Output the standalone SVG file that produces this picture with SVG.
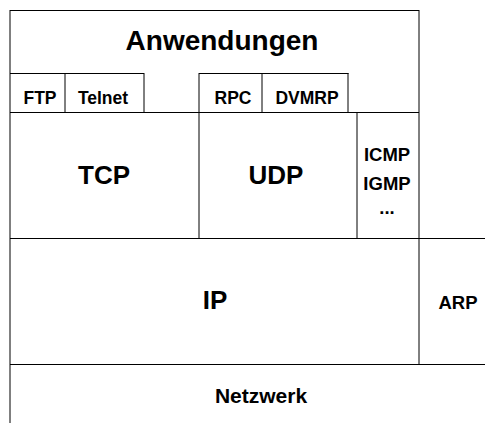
<svg xmlns="http://www.w3.org/2000/svg" width="485" height="423" viewBox="0 0 485 423">
<style>
.ln{stroke:#000;stroke-width:1;fill:none}
text{font-family:"Liberation Sans",Arial,sans-serif;font-weight:bold;fill:#000;text-anchor:middle}
.big{font-size:26px}
.sm{font-size:17.5px}
.md{font-size:18.5px}
</style>
<rect width="485" height="423" fill="#fff"/>
<g id="connectors">
<path class="ln" d="M10,10V423 M10,10.5H419 M419,10V364"/>
<path class="ln" d="M10,73.5H144 M199,73.5H348.5"/>
<path class="ln" d="M65,73V112 M144,73V112 M199,73V238 M262,73V112 M348,73V112"/>
<path class="ln" d="M10,112.5H419 M357,112V238"/>
<path class="ln" d="M10,238.5H485 M10,364.5H485"/>
</g>
<g id="anwendungen"><text x="222" y="50" style="font-size:28px">Anwendungen</text></g>
<g id="ftp"><text class="sm" x="40" y="104">FTP</text></g>
<g id="telnet"><text class="sm" x="103" y="104">Telnet</text></g>
<g id="rpc"><text class="sm" x="233" y="104">RPC</text></g>
<g id="dvmrp"><text class="sm" x="307" y="104">DVMRP</text></g>
<g id="tcp"><text class="big" x="104" y="184">TCP</text></g>
<g id="udp"><text class="big" x="276" y="184">UDP</text></g>
<g id="icmp"><text class="md" x="387" y="161">ICMP</text><text class="md" x="387" y="190">IGMP</text><text class="md" x="387" y="214">...</text></g>
<g id="ip"><text class="big" x="215" y="309">IP</text></g>
<g id="arp"><text class="md" x="458" y="309">ARP</text></g>
<g id="netzwerk"><text style="font-size:21px" x="261" y="403">Netzwerk</text></g>
</svg>
